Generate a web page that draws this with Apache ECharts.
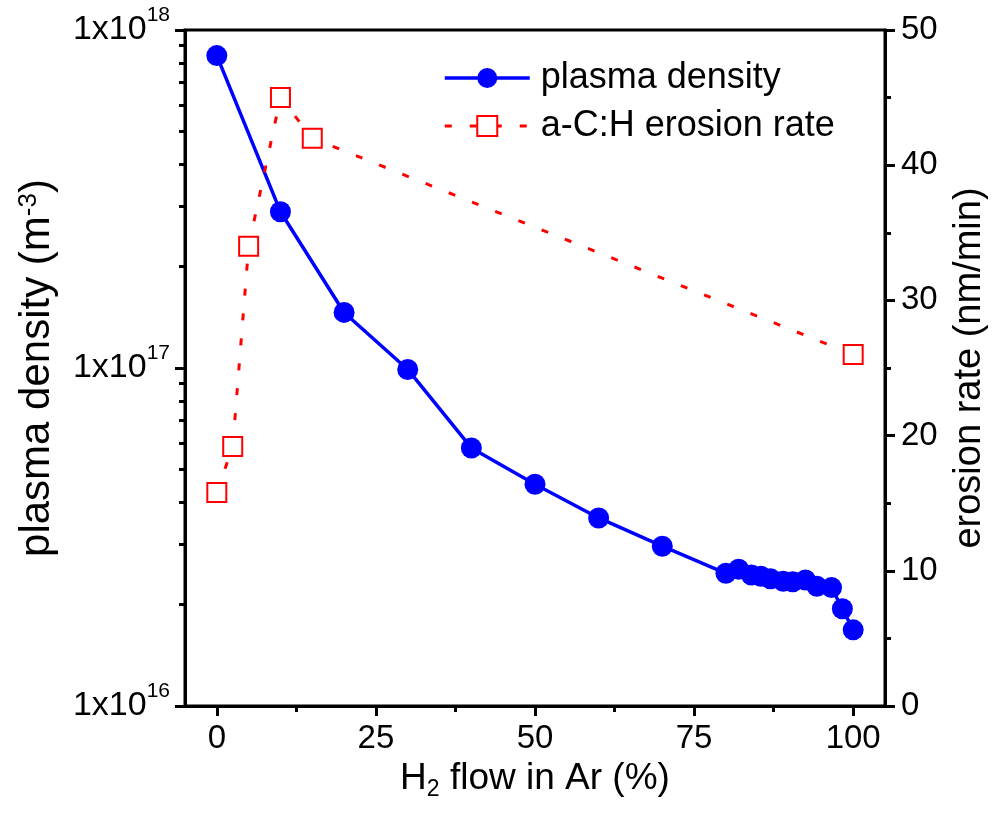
<!DOCTYPE html>
<html>
<head>
<meta charset="utf-8">
<script src="https://cdn.jsdelivr.net/npm/echarts@6/dist/echarts.min.js"></script>
<style>html,body{margin:0;padding:0;background:#fff}#c{width:997px;height:814px}</style>
</head>
<body>
<div id="c"></div>
<script>
// ---- data ----
const xPlasma = [0, 10, 20, 30, 40, 50, 60, 70, 80, 82, 84, 85.5, 87, 89, 90.5, 92.5, 94.3, 96.6, 98.3, 100];
const yPlasma = [8.4e17, 2.9e17, 1.46e17, 9.9e16, 5.8e16, 4.53e16, 3.6e16, 2.97e16, 2.47e16, 2.54e16, 2.44e16, 2.42e16, 2.38e16, 2.34e16, 2.33e16, 2.36e16, 2.26e16, 2.24e16, 1.94e16, 1.68e16];
const xErosion = [0, 2.5, 5, 10, 15, 100];
const yErosion = [15.8, 19.2, 34.0, 45.0, 42.0, 26.0];
const xTicks = [0, 25, 50, 75, 100];
const xMinorTicks = [12.5, 37.5, 62.5, 87.5];
const densityMinorTicks = [2e16, 3e16, 4e16, 5e16, 6e16, 7e16, 8e16, 9e16, 2e17, 3e17, 4e17, 5e17, 6e17, 7e17, 8e17, 9e17];
const seriesNames = ['plasma density', 'a-C:H erosion rate'];

const FONT = 'Arial, "Liberation Sans", sans-serif';
const chart = echarts.init(document.getElementById('c'), null, {renderer: 'canvas'});
const tickStyle = {color: '#000', width: 3};

const option = {
  animation: false,
  backgroundColor: '#fff',
  textStyle: {fontFamily: FONT, color: '#000'},
  grid: {left: 185, right: 112, top: 30, bottom: 108, show: true, borderColor: '#000', borderWidth: 3, backgroundColor: 'transparent'},
  legend: {
    orient: 'vertical', left: 438, top: 55, itemWidth: 85, itemHeight: 25, itemGap: 12,
    data: seriesNames,
    lineStyle: {width: 'inherit'},
    textStyle: {fontFamily: FONT, fontSize: 36, color: '#000', lineHeight: 30, padding: [0, 0, 0, 6]}
  },
  xAxis: [{
    type: 'value', min: -5, max: 105,
    name: 'H{sub|2} flow in Ar (%)', nameLocation: 'middle', nameGap: 46,
    nameTextStyle: {fontFamily: FONT, fontSize: 37, color: '#000', rich: {sub: {fontSize: 23, verticalAlign: 'bottom', padding: [0, 0, -4, 0]}}},
    axisLine: {show: true, onZero: false, lineStyle: {color: '#000', width: 3}},
    axisTick: {show: true, length: 10, inside: false, lineStyle: tickStyle, customValues: xTicks},
    axisLabel: {show: true, fontSize: 33, fontFamily: FONT, color: '#000', margin: 16, customValues: xTicks},
    splitLine: {show: false}
  }, {
    type: 'value', min: -5, max: 105, position: 'bottom', gridIndex: 0,
    axisLine: {show: false, onZero: false},
    axisTick: {show: true, length: 6, inside: false, lineStyle: tickStyle, customValues: xMinorTicks},
    axisLabel: {show: false},
    splitLine: {show: false}
  }],
  yAxis: [{
    type: 'log', logBase: 10, min: 1e16, max: 1e18, position: 'left',
    name: 'plasma density (m{sup|-3})', nameLocation: 'middle', nameGap: 127, nameRotate: 90,
    nameTextStyle: {fontFamily: FONT, fontSize: 42, color: '#000', rich: {sup: {fontSize: 26, verticalAlign: 'top'}}},
    axisLine: {show: true, onZero: false, lineStyle: {color: '#000', width: 3}},
    axisTick: {show: true, length: 10, inside: false, lineStyle: tickStyle},
    axisLabel: {
      show: true, margin: 15, color: '#000',
      formatter: function (v) { return '{b|1x10}{s|' + Math.round(Math.log10(v)) + '}'; },
      rich: {
        b: {fontSize: 34, fontFamily: FONT, color: '#000', lineHeight: 34},
        s: {fontSize: 21, fontFamily: FONT, color: '#000', verticalAlign: 'top', padding: [-8, 0, 0, 0]}
      }
    },
    splitLine: {show: false}
  }, {
    type: 'value', min: 0, max: 50, interval: 10, position: 'right',
    name: 'erosion rate (nm/min)', nameLocation: 'middle', nameGap: 66, nameRotate: 90,
    nameTextStyle: {fontFamily: FONT, fontSize: 38, color: '#000'},
    axisLine: {show: true, onZero: false, lineStyle: {color: '#000', width: 3}},
    axisTick: {show: true, length: 10, inside: false, lineStyle: tickStyle},
    minorTick: {show: true, splitNumber: 2, length: 6, lineStyle: tickStyle},
    axisLabel: {show: true, fontSize: 33, fontFamily: FONT, color: '#000', margin: 16},
    splitLine: {show: false}
  }, {
    type: 'value', min: 16, max: 18, position: 'left',
    axisLine: {show: false, onZero: false},
    axisTick: {show: true, length: 6, inside: false, lineStyle: tickStyle, customValues: densityMinorTicks.map(v => Math.log10(v))},
    axisLabel: {show: false},
    splitLine: {show: false}
  }],
  series: [{
    name: seriesNames[0], type: 'line', xAxisIndex: 0, yAxisIndex: 0,
    data: xPlasma.map((x, i) => [x, yPlasma[i]]),
    symbol: 'circle', symbolSize: 21, color: '#0000ff',
    lineStyle: {color: '#0000ff', width: 3.5},
    itemStyle: {color: '#0000ff'},
    z: 2
  }, {
    name: seriesNames[1], type: 'line', xAxisIndex: 0, yAxisIndex: 1,
    data: xErosion.map((x, i) => [x, yErosion[i]]),
    symbol: 'rect', symbolSize: 19, color: '#ff0000',
    lineStyle: {color: '#ff0000', width: 3, type: [7, 18]},
    itemStyle: {color: '#ffffff', borderColor: '#ff0000', borderWidth: 2},
    z: 3
  }]
};
chart.setOption(option);
</script>
</body>
</html>
